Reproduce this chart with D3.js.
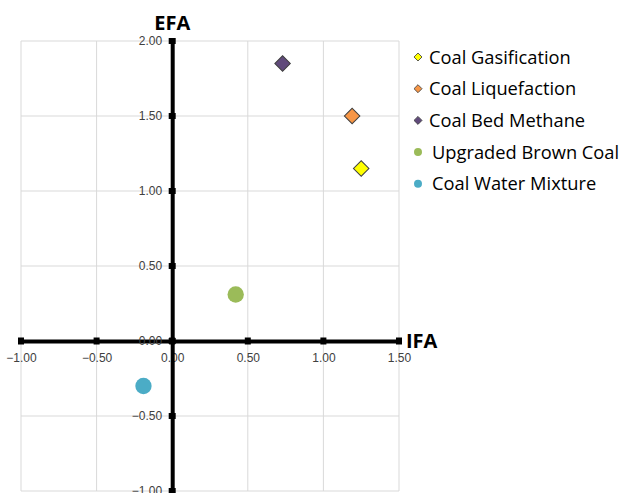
<!DOCTYPE html>
<html>
<head>
<meta charset="utf-8">
<script src="https://cdn.jsdelivr.net/npm/d3@7"></script>
<style>
  body { margin: 0; background: #fff; }
</style>
</head>
<body>
<script>
// data
const names = ['Coal Gasification', 'Coal Liquefaction', 'Coal Bed Methane', 'Upgraded Brown Coal', 'Coal Water Mixture']
const ifa = [1.25, 1.19, 0.73, 0.42, -0.19]
const efa = [1.15, 1.50, 1.85, 0.31, -0.30]
const shapes = ['diamond', 'diamond', 'diamond', 'circle', 'circle']
const fills = ['#ffff00', '#f79646', '#604a7b', '#9bbb59', '#4bacc6']
const xTicks = [-1, -0.5, 0, 0.5, 1, 1.5]
const yTicks = [-1, -0.5, 0, 0.5, 1, 1.5, 2]

const W = 623, H = 493
const svgEl = d3.create('svg').attr('width', W).attr('height', H)
svgEl.style('background', '#fff').style('display', 'block')

const x = d3.scaleLinear().domain([-1, 1.5]).range([21, 399])
const y = d3.scaleLinear().domain([-1, 2]).range([491, 41])

// gridlines
svgEl.append('g').selectAll('line').data(xTicks).join('line')
  .attr('x1', d => x(d)).attr('x2', d => x(d))
  .attr('y1', y(2)).attr('y2', y(-1))
  .attr('stroke', '#d9d9d9').attr('stroke-width', 1)
svgEl.append('g').selectAll('line').data(yTicks).join('line')
  .attr('y1', d => y(d)).attr('y2', d => y(d))
  .attr('x1', x(-1)).attr('x2', x(1.5))
  .attr('stroke', '#d9d9d9').attr('stroke-width', 1)

// thick axes through zero
const xAxis = d3.axisBottom(x).tickValues(xTicks).tickFormat(d3.format('.2f')).tickSize(0).tickPadding(12)
const gx = svgEl.append('g').attr('transform', `translate(0,${y(0)})`).call(xAxis)
gx.attr('font-size', 12).attr('font-family', 'Liberation Sans Narrow, Liberation Sans, Arial, sans-serif')
gx.select('.domain').attr('stroke', '#000').attr('stroke-width', 4)
gx.selectAll('text').attr('fill', '#404040')

const yAxis = d3.axisLeft(y).tickValues(yTicks).tickFormat(d3.format('.2f')).tickSize(0).tickPadding(10)
const gy = svgEl.append('g').attr('transform', `translate(${x(0)},0)`).call(yAxis)
gy.attr('font-size', 12).attr('font-family', 'Liberation Sans Narrow, Liberation Sans, Arial, sans-serif')
gy.select('.domain').attr('stroke', '#000').attr('stroke-width', 4)
gy.selectAll('text').attr('fill', '#404040')

// tick marks as small squares
svgEl.append('g').selectAll('rect').data(xTicks).join('rect')
  .attr('x', d => x(d) - 3).attr('y', y(0) - 3.5).attr('width', 6).attr('height', 7).attr('fill', '#000')
svgEl.append('g').selectAll('rect').data(yTicks).join('rect')
  .attr('x', x(0) - 3.5).attr('y', d => y(d) - 3).attr('width', 7).attr('height', 6).attr('fill', '#000')

// axis titles
svgEl.append('text').attr('x', x(0)).attr('y', 30).attr('text-anchor', 'middle')
  .attr('font-family', 'Open Sans, sans-serif').attr('font-weight', 'bold').attr('font-size', 20)
  .attr('fill', '#000').text('EFA')
svgEl.append('text').attr('x', 406).attr('y', y(0) + 7).attr('text-anchor', 'start')
  .attr('font-family', 'Open Sans, sans-serif').attr('font-weight', 'bold').attr('font-size', 20)
  .attr('fill', '#000').text('IFA')

const symbolFor = (s, size) => d3.symbol().type(s === 'diamond' ? d3.symbolSquare : d3.symbolCircle).size(size)()

// points
svgEl.append('g').selectAll('path').data(names).join('path')
  .attr('transform', (d, i) => `translate(${x(ifa[i])},${y(efa[i])})` + (shapes[i] === 'diamond' ? ' rotate(45)' : ''))
  .attr('d', (d, i) => shapes[i] === 'diamond' ? symbolFor('diamond', 120) : symbolFor('circle', 210))
  .attr('fill', (d, i) => fills[i])
  .attr('stroke', (d, i) => shapes[i] === 'diamond' ? '#404040' : 'none')
  .attr('stroke-width', 1)

// legend
const lg = svgEl.append('g').selectAll('g').data(names).join('g')
  .attr('transform', (d, i) => `translate(418,${57 + i * 31.7})`)
lg.append('path')
  .attr('transform', (d, i) => shapes[i] === 'diamond' ? 'rotate(45)' : '')
  .attr('d', (d, i) => shapes[i] === 'diamond' ? symbolFor('diamond', 32) : symbolFor('circle', 50))
  .attr('fill', (d, i) => fills[i])
  .attr('stroke', (d, i) => shapes[i] === 'diamond' ? '#404040' : 'none')
  .attr('stroke-width', 0.8)
lg.append('text')
  .attr('x', (d, i) => shapes[i] === 'diamond' ? 11 : 14).attr('y', 6.5)
  .attr('font-family', 'Open Sans, sans-serif').attr('font-size', 18.3)
  .attr('fill', '#000').text(d => d)

document.body.appendChild(svgEl.node())
</script>
</body>
</html>
